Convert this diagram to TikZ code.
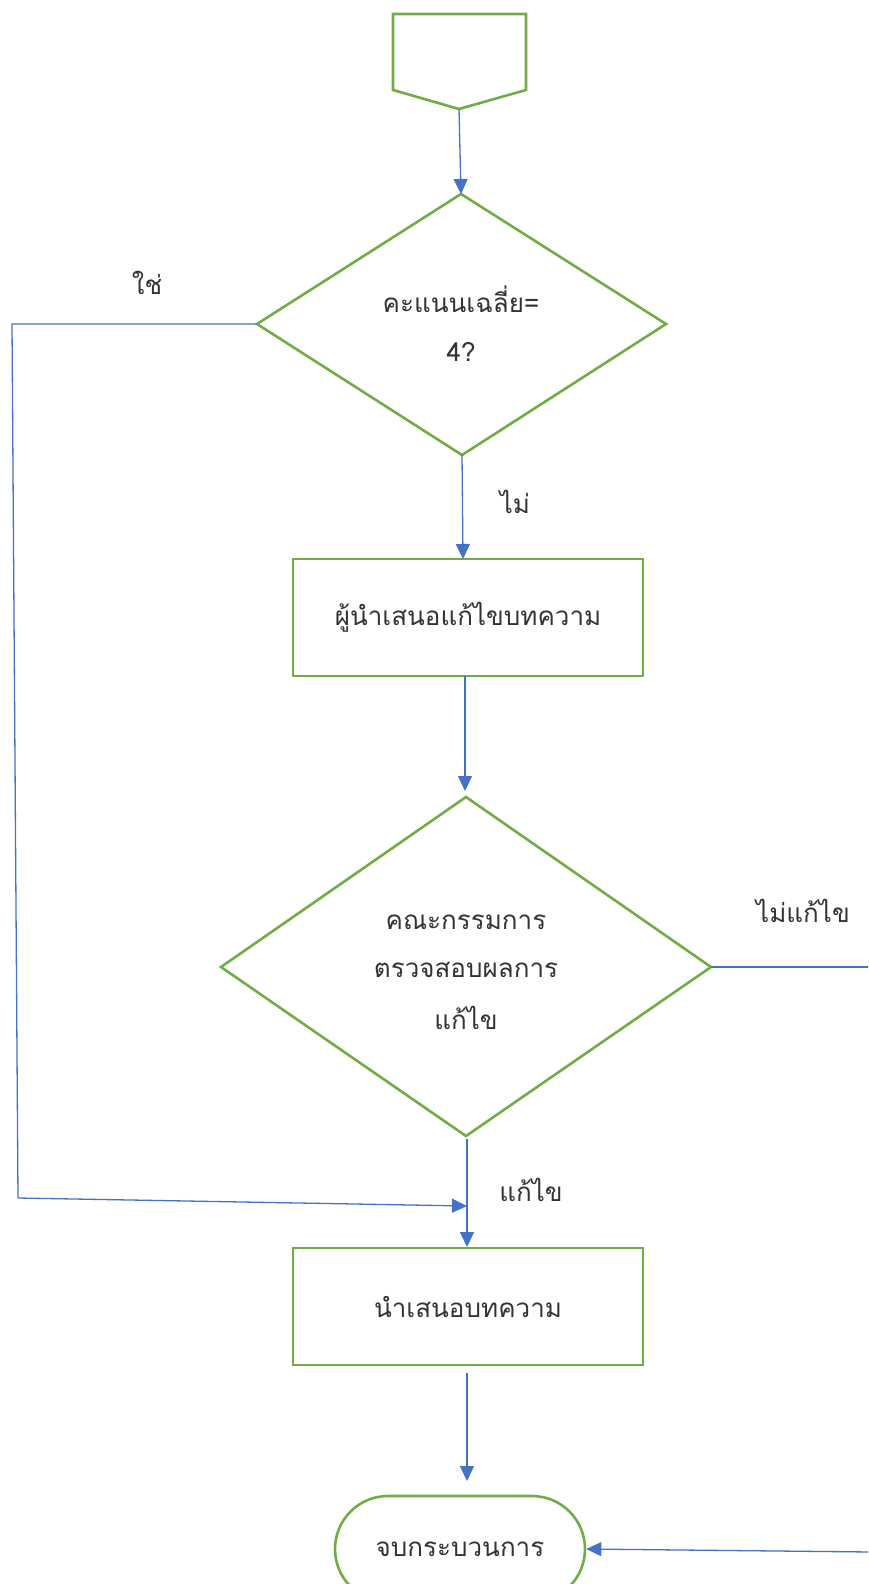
\documentclass[tikz,border=0pt]{standalone}
\usepackage{fontspec}
\newfontfamily\thaifont[Script=Thai]{Loma}
\usetikzlibrary{arrows.meta}
\definecolor{lblue}{HTML}{4472C4}
\definecolor{lgreen}{HTML}{70AD47}
\begin{document}
\begin{tikzpicture}[x=1pt,y=-1pt,
  shapeline/.style={draw=lgreen, line width=2.6pt, line join=miter},
  conn/.style={draw=lblue, line width=1.3pt},
  arr/.style={conn, -{Triangle[length=15pt,width=14pt]}},
  lbl/.style={font=\thaifont\fontsize{26}{31}\selectfont, text=black!80, inner sep=0pt, align=center},
  boxnode/.style={shapeline, rectangle, minimum width=350pt, minimum height=117pt, lbl}]
\useasboundingbox (0,0) rectangle (868,1584);
\clip (0,0) rectangle (868,1584);
% start pentagon
\coordinate (pb) at (459,109);
\draw[shapeline] (393,14) -- (526,14) -- (526,90) -- (pb) -- (393,90) -- cycle;
% decision 1
\coordinate (d1t) at (461,194);
\coordinate (d1r) at (666,324);
\coordinate (d1b) at (462,455);
\coordinate (d1l) at (257,324);
\draw[shapeline] (d1t) -- (d1r) -- (d1b) -- (d1l) -- cycle;
\node[lbl] (d1a) at (461,299) {คะแนนเฉลี่ย=};
\node[lbl] (d1c) at (461,352) {4?};
% box 1
\node[boxnode] (b1) at (468,617.5) {ผู้นำเสนอแก้ไขบทความ};
% decision 2
\coordinate (d2t) at (466,797);
\coordinate (d2r) at (711,967);
\coordinate (d2b) at (466,1136);
\coordinate (d2l) at (221,967);
\draw[shapeline] (d2t) -- (d2r) -- (d2b) -- (d2l) -- cycle;
\node[lbl] (d2x) at (466,922) {คณะกรรมการ};
\node[lbl] (d2y) at (466,970) {ตรวจสอบผลการ};
\node[lbl] (d2z) at (466,1018) {แก้ไข};
% box 2
\node[boxnode] (b2) at (468,1306.5) {นำเสนอบทความ};
% terminal
\node[shapeline, rectangle, rounded corners=53pt, minimum width=250pt, minimum height=106pt, lbl] (end) at (460,1549) {จบกระบวนการ};
% labels
\node[lbl] (yes) at (147,283) {ใช่};
\node[lbl] (no) at (515,502) {ไม่};
\node[lbl] (nofix) at (803,911) {ไม่แก้ไข};
\node[lbl] (fix) at (531,1190) {แก้ไข};
% connectors
\coordinate (c1) at (12,324);
\coordinate (c2) at (18,1198);
\coordinate (c3) at (467,1206);
\coordinate (c4) at (872,967);
\coordinate (c5) at (872,1552);
\draw[arr] (pb) -- (d1t);
\draw[arr] (d1b) -- (463,559);
\draw[arr] (465,676) -- (465,791);
\draw[arr] (467,1139) -- (467,1247);
\draw[arr] (467,1373) -- (467,1481);
\draw[conn] (d1l) -- (c1) -- (c2);
\draw[arr] (c2) -- (c3);
\draw[conn] (d2r) -- (c4);
\draw[arr] (c5) -- (end.east);
\end{tikzpicture}
\end{document}
